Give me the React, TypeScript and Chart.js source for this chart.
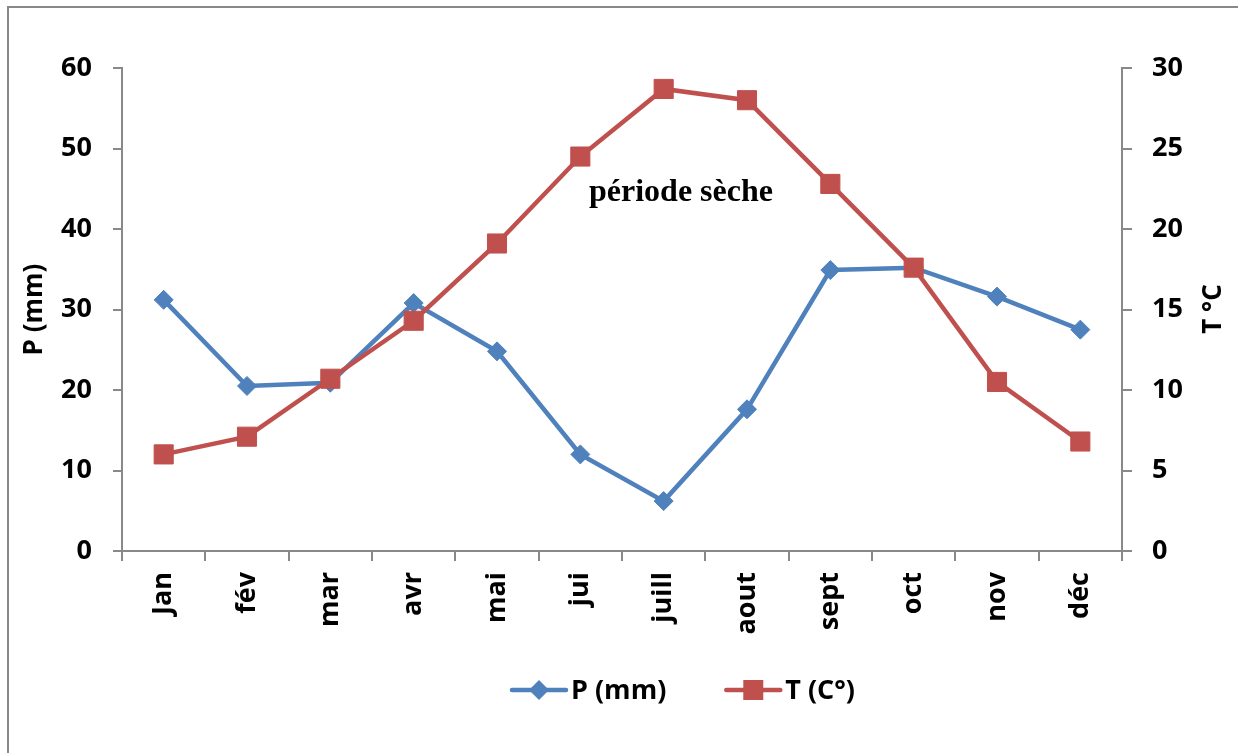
import React, { useEffect, useRef } from "react";
import { Chart, registerables } from "chart.js";

Chart.register(...registerables);

const months = ["Jan", "fév", "mar", "avr", "mai", "jui", "juill", "aout", "sept", "oct", "nov", "déc"];
const precipitation = [31.2, 20.5, 20.9, 30.8, 24.8, 12.0, 6.2, 17.6, 34.9, 35.2, 31.6, 27.5];
const temperature = [6.0, 7.1, 10.7, 14.3, 19.1, 24.5, 28.7, 28.0, 22.8, 17.6, 10.5, 6.8];
const pLabel = "P (mm)";
const tLabel = "T (C°)";
const pAxisTitle = "P (mm)";
const tAxisTitle = "T °C";
const annotationText = "période sèche";

const BLUE = "#4F81BD";
const RED = "#C0504D";
const AXIS = "#898989";
const FONT = "'Open Sans', 'Noto Sans', sans-serif";
const TICK_FONT = { family: FONT, size: 27, weight: "bold" as const };

const overlayPlugin = {
  id: "overlay",
  afterDraw(chart: any) {
    const ctx = chart.ctx as CanvasRenderingContext2D;
    ctx.save();
    // annotation text
    ctx.fillStyle = "#000";
    ctx.font = "bold 32px 'Liberation Serif', 'DejaVu Serif', serif";
    ctx.textAlign = "center";
    ctx.textBaseline = "middle";
    ctx.fillText(annotationText, 681, 193);

    // right axis title, reading bottom to top
    ctx.font = `bold 26px ${FONT}`;
    ctx.translate(1214, 309);
    ctx.rotate(-Math.PI / 2);
    ctx.fillText(tAxisTitle, 0, 0);
    ctx.restore();

    // legend
    ctx.save();
    let x = 512;
    const y = 690;
    const items = [
      { label: pLabel, color: BLUE, marker: "diamond" },
      { label: tLabel, color: RED, marker: "square" },
    ];
    ctx.font = `bold 27px ${FONT}`;
    ctx.textBaseline = "middle";
    ctx.textAlign = "left";
    items.forEach((it) => {
      ctx.strokeStyle = it.color;
      ctx.fillStyle = it.color;
      ctx.lineWidth = 4.5;
      ctx.lineCap = "round";
      ctx.beginPath();
      ctx.moveTo(x, y);
      ctx.lineTo(x + 54, y);
      ctx.stroke();
      const cx = x + 27;
      ctx.beginPath();
      if (it.marker === "diamond") {
        const r = 10;
        ctx.moveTo(cx - r, y);
        ctx.lineTo(cx, y - r);
        ctx.lineTo(cx + r, y);
        ctx.lineTo(cx, y + r);
        ctx.closePath();
      } else {
        const s = 10;
        ctx.rect(cx - s, y - s, 2 * s, 2 * s);
      }
      ctx.fill();
      ctx.fillStyle = "#000";
      ctx.fillText(it.label, x + 59, y + 1);
      x += 59 + ctx.measureText(it.label).width + 60;
    });
    ctx.restore();
  },
};

export default function App() {
  const canvasRef = useRef<HTMLCanvasElement | null>(null);

  useEffect(() => {
    if (!canvasRef.current) return;
    const chart = new Chart(canvasRef.current, {
      type: "line",
      data: {
        labels: months,
        datasets: [
          {
            label: pLabel,
            data: precipitation,
            yAxisID: "y",
            borderColor: BLUE,
            backgroundColor: BLUE,
            borderWidth: 4.5,
            pointStyle: "rectRot",
            pointRadius: 9.5,
            pointBorderWidth: 1,
            pointBackgroundColor: BLUE,
            pointBorderColor: BLUE,
            tension: 0,
            order: 1,
          },
          {
            label: tLabel,
            data: temperature,
            yAxisID: "y1",
            borderColor: RED,
            backgroundColor: RED,
            borderWidth: 4.5,
            pointStyle: "rect",
            pointRadius: 13.5,
            pointBorderWidth: 1,
            pointBackgroundColor: RED,
            pointBorderColor: RED,
            tension: 0,
            order: 0,
          },
        ],
      },
      options: {
        animation: false,
        responsive: false,
        maintainAspectRatio: false,
        layout: { padding: { top: 68, left: 0, right: 0, bottom: 0 } },
        plugins: {
          legend: { display: false },
          tooltip: { enabled: false },
        },
        scales: {
          x: {
            type: "category",
            offset: true,
            grid: { offset: true, drawOnChartArea: false, drawTicks: true, tickLength: 10, color: AXIS, lineWidth: 2 },
            border: { color: AXIS, width: 2 },
            ticks: { minRotation: 90, maxRotation: 90, autoSkip: false, padding: 11, color: "#000", font: TICK_FONT },
            afterFit: (s: any) => {
              s.height = 202;
            },
          },
          y: {
            position: "left",
            min: 0,
            max: 60,
            grid: { drawOnChartArea: false, drawTicks: true, tickLength: 9, color: AXIS, lineWidth: 2 },
            border: { color: AXIS, width: 2 },
            ticks: { stepSize: 10, padding: 21, color: "#000", font: TICK_FONT },
            title: {
              display: true,
              text: pAxisTitle,
              color: "#000",
              font: { family: FONT, size: 26, weight: "bold" as const },
              padding: { top: 19, bottom: 0 },
            },
            afterFit: (s: any) => {
              s.width = 122;
            },
          },
          y1: {
            position: "right",
            min: 0,
            max: 30,
            grid: { drawOnChartArea: false, drawTicks: true, tickLength: 10, color: AXIS, lineWidth: 2 },
            border: { color: AXIS, width: 2 },
            ticks: { stepSize: 5, padding: 20, color: "#000", font: TICK_FONT },
            afterFit: (s: any) => {
              s.width = 116;
            },
          },
        },
      },
      plugins: [overlayPlugin],
    });
    if ((document as any).fonts && (document as any).fonts.ready) {
      (document as any).fonts.ready.then(() => chart.update());
    }
    return () => chart.destroy();
  }, []);

  return (
    <div style={{ position: "fixed", left: 0, top: 0, width: 1238, height: 753, background: "#fff", overflow: "hidden" }}>
      <div
        style={{
          position: "absolute",
          left: 7,
          top: 6,
          width: 1300,
          height: 800,
          borderLeft: `2px solid ${AXIS}`,
          borderTop: `2px solid ${AXIS}`,
        }}
      />
      <canvas ref={canvasRef} width={1238} height={753} style={{ position: "absolute", left: 0, top: 0, width: 1238, height: 753 }} />
    </div>
  );
}
